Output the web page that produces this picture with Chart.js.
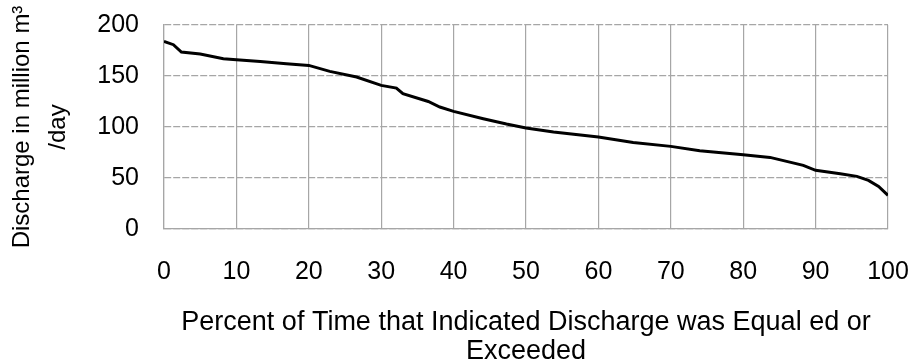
<!DOCTYPE html>
<html>
<head>
<meta charset="utf-8">
<script src="https://cdn.jsdelivr.net/npm/chart.js@4/dist/chart.umd.min.js"></script>
<style>
  html, body { margin: 0; padding: 0; background: #ffffff; }
  #wrap { width: 913px; height: 363px; }
</style>
</head>
<body>
<div id="wrap"><canvas id="c" width="913" height="363"></canvas></div>
<script>
// Percent of time discharge was equalled or exceeded (x) and discharge (y)
const percentTime = [0, 1.3, 2.4, 5, 8.2, 10, 13.3, 16.9, 20, 22.9, 26.6, 30, 32.1, 33, 36.5, 38.1, 40, 44.1, 47.3, 50, 53.8, 60, 64.8, 70, 74, 80, 83.7, 88.3, 90, 93.4, 95.7, 97.3, 98.7, 100];
const discharge = [184, 180.7, 173.5, 171.5, 167, 166, 164.3, 162, 160.4, 154.5, 149, 140.8, 138.2, 132.6, 125, 119.6, 115.3, 108.1, 102.9, 99, 95.1, 90.2, 84.9, 81, 76.8, 72.8, 70.2, 62.4, 57.5, 54.2, 51.6, 47.7, 41.8, 33];
const xTicks = [0, 10, 20, 30, 40, 50, 60, 70, 80, 90, 100];
const yTicks = [0, 50, 100, 150, 200];
const xTitle = ['Percent of Time that Indicated Discharge was Equal ed or', 'Exceeded'];
const yTitle = ['Discharge in million m\u00B3', '/day'];

const points = percentTime.map((p, i) => ({ x: p, y: discharge[i] }));
const FONT = '"Liberation Sans", Arial, sans-serif';
const GRID = '#a6a6a6';

new Chart(document.getElementById('c'), {
  type: 'line',
  data: {
    datasets: [{
      data: points,
      borderColor: '#000000',
      borderWidth: 3,
      pointRadius: 0,
      tension: 0,
      fill: false
    }]
  },
  options: {
    responsive: false,
    animation: false,
    devicePixelRatio: 1,
    layout: { padding: { left: 4, top: 25, right: 25, bottom: 0 } },
    plugins: { legend: { display: false }, tooltip: { enabled: false } },
    scales: {
      x: {
        type: 'linear',
        min: 0, max: 100,
        afterBuildTicks: s => { s.ticks = xTicks.map(v => ({ value: v })); },
        afterFit: s => { s.height = 134; s.paddingLeft = 0; s.paddingRight = 0; },
        grid: { color: GRID, lineWidth: 1.2, drawTicks: false },
        border: { color: GRID, width: 1.2 },
        ticks: { color: '#000', font: { family: FONT, size: 25 }, padding: 28, maxRotation: 0 },
        title: { display: true, text: xTitle, color: '#000', font: { family: FONT, size: 27, lineHeight: 1.08 }, padding: { top: 0, bottom: -3 } }
      },
      y: {
        type: 'linear',
        min: 0, max: 200,
        afterBuildTicks: s => { s.ticks = yTicks.map(v => ({ value: v })); },
        afterFit: s => { s.width = 160; s.paddingTop = 0; s.paddingBottom = 0; },
        grid: { color: GRID, lineWidth: 1.2, drawTicks: false },
        border: { color: GRID, width: 1.2, dash: [7, 2] },
        ticks: { color: '#000', font: { family: FONT, size: 25 }, padding: 25 },
        title: { display: true, text: yTitle, color: '#000', font: { family: FONT, size: 24, lineHeight: 1.5 }, padding: { top: 0, bottom: 0 } }
      }
    }
  },
  plugins: [{
    id: 'dashY',
    beforeDraw(chart) {
      chart.options.scales.y.grid.borderDash = [7, 2];
    }
  }]
});
</script>
</body>
</html>
